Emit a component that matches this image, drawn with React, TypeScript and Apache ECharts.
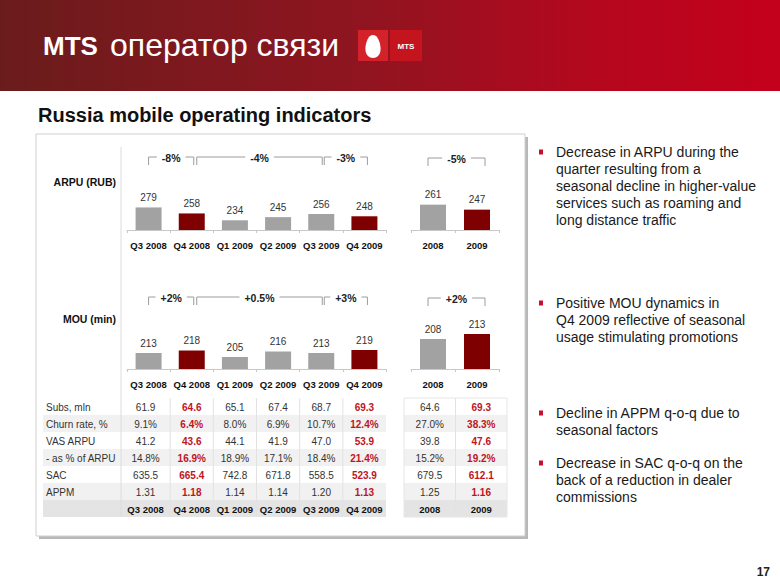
import React, { useEffect, useRef } from "react";
import * as echarts from "echarts";

const quarters = ["Q3 2008", "Q4 2008", "Q1 2009", "Q2 2009", "Q3 2009", "Q4 2009"];
const years = ["2008", "2009"];
const arpuQ = [279, 258, 234, 245, 256, 248];
const arpuY = [261, 247];
const mouQ = [213, 218, 205, 216, 213, 219];
const mouY = [208, 213];
const highlightQ = [1, 5];
const highlightY = [1];
const arpuQChanges = ["-8%", "-4%", "-3%"];
const arpuYChange = "-5%";
const mouQChanges = ["+2%", "+0.5%", "+3%"];
const mouYChange = "+2%";
const rowLabels = ["Subs, mln", "Churn rate, %", "VAS ARPU", "- as % of ARPU", "SAC", "APPM"];
const tableQ = [
  ["61.9", "64.6", "65.1", "67.4", "68.7", "69.3"],
  ["9.1%", "6.4%", "8.0%", "6.9%", "10.7%", "12.4%"],
  ["41.2", "43.6", "44.1", "41.9", "47.0", "53.9"],
  ["14.8%", "16.9%", "18.9%", "17.1%", "18.4%", "21.4%"],
  ["635.5", "665.4", "742.8", "671.8", "558.5", "523.9"],
  ["1.31", "1.18", "1.14", "1.14", "1.20", "1.13"],
];
const tableY = [
  ["64.6", "69.3"],
  ["27.0%", "38.3%"],
  ["39.8", "47.6"],
  ["15.2%", "19.2%"],
  ["679.5", "612.1"],
  ["1.25", "1.16"],
];
const bullets = [
  "Decrease in ARPU during the\nquarter resulting from a\nseasonal decline in higher-value\nservices such as roaming and\nlong distance traffic",
  "Positive MOU dynamics in\nQ4 2009 reflective of seasonal\nusage stimulating promotions",
  "Decline in APPM q-o-q due to\nseasonal factors",
  "Decrease in SAC q-o-q on the\nback of a reduction in dealer\ncommissions",
];
const bulletTops = [152, 303, 413, 463];
const headerBrand = "MTS";
const headerText = "оператор связи";
const title = "Russia mobile operating indicators";
const pageNo = "17";

const FONT = "'Liberation Sans', Arial, Helvetica, sans-serif";
const GRAY = "#a2a2a2";
const RED = "#7f0000";
const TXT_RED = "#c0141e";

// layout
const QL = 127, QW = 259;
const YL = 411, YW = 88;
const qStep = QW / quarters.length;
const yStep = YW / years.length;
const qc = (i: number) => QL + qStep * (i + 0.5);
const yc = (i: number) => YL + yStep * (i + 0.5);

function bracket(x1: number, x2: number, y: number, text: string) {
  return [
    {
      type: "polyline",
      z: 5,
      shape: { points: [[x1, y + 8], [x1, y], [x2, y], [x2, y + 8]] },
      style: { stroke: "#9c9c9c", lineWidth: 1, fill: null },
    },
    {
      type: "text",
      z: 6,
      x: (x1 + x2) / 2,
      y: y + 1,
      style: {
        text,
        font: `bold 10.5px ${FONT}`,
        fill: "#222",
        align: "center",
        verticalAlign: "middle",
        textAlign: "center",
        textVerticalAlign: "middle",
        backgroundColor: "#fff",
        padding: [1, 5],
      },
    },
  ];
}

function txt(x: number, y: number, text: string, font: string, fill: string, align = "center", z = 6) {
  return {
    type: "text",
    z,
    x,
    y,
    style: { text, font, fill, align, verticalAlign: "middle", textAlign: align, textVerticalAlign: "middle" },
  };
}

export default function App() {
  const ref = useRef<HTMLDivElement>(null);
  useEffect(() => {
    if (!ref.current) return;
    echarts.graphic.registerShape(
      "egg",
      echarts.graphic.extendPath(
        "M0,-11 C5,-11 8,-3 8,3 C8,9 4,12 0,12 C-4,12 -8,9 -8,3 C-8,-3 -5,-11 0,-11 Z",
        {}
      )
    );
    const chart = echarts.init(ref.current, null, { renderer: "svg" });

    const graphics: any[] = [];
    // header
    graphics.push({
      type: "rect",
      z: 0,
      shape: { x: 0, y: 0, width: 780, height: 91 },
      style: {
        fill: new echarts.graphic.LinearGradient(0, 0, 1, 0, [
          { offset: 0, color: "#6a1c1c" },
          { offset: 0.45, color: "#8e1520" },
          { offset: 0.75, color: "#b3081e" },
          { offset: 1, color: "#c4001c" },
        ]),
      },
    });
    graphics.push(txt(43, 46, headerBrand, `bold 26px ${FONT}`, "#fff", "left"));
    graphics.push(txt(110, 45, headerText, `32px ${FONT}`, "#fff", "left"));
    graphics.push({ type: "rect", z: 1, shape: { x: 358, y: 30, width: 30, height: 31 }, style: { fill: "#d3222a" } });
    graphics.push({ type: "rect", z: 1, shape: { x: 390, y: 30, width: 32, height: 31 }, style: { fill: "#c4141e" } });
    graphics.push({ type: "egg", z: 2, x: 373, y: 46, scaleX: 0.95, scaleY: 1, style: { fill: "#fff" } });
    graphics.push(txt(406, 46, "MTS", `bold 8px ${FONT}`, "#fff", "center", 3));

    // title
    graphics.push(txt(38, 115, title, `bold 20px ${FONT}`, "#111", "left"));

    // panel
    graphics.push({ type: "rect", z: 0, shape: { x: 39, y: 137, width: 489, height: 402 }, style: { fill: "#b8b8b8" } });
    graphics.push({ type: "rect", z: 0, shape: { x: 36, y: 134, width: 489, height: 402 }, style: { fill: "#fff", stroke: "#cfcfcf", lineWidth: 1 } });

    // separator
    graphics.push({ type: "line", z: 4, shape: { x1: 121, y1: 147, x2: 121, y2: 517 }, style: { stroke: "#dcdcdc", lineWidth: 1 } });

    // row titles
    graphics.push(txt(116, 182, "ARPU (RUB)", `bold 10.5px ${FONT}`, "#111", "right"));
    graphics.push(txt(116, 319, "MOU (min)", `bold 10.5px ${FONT}`, "#111", "right"));

    // brackets ARPU
    graphics.push(...bracket(qc(0), qc(1) + 2, 157, arpuQChanges[0]));
    graphics.push(...bracket(qc(1) + 5, qc(4) + 1, 157, arpuQChanges[1]));
    graphics.push(...bracket(qc(4) + 3, qc(5) + 3, 157, arpuQChanges[2]));
    graphics.push(...bracket(yc(0) - 5, yc(1) + 8, 158, arpuYChange));
    // brackets MOU
    graphics.push(...bracket(qc(0), qc(1) + 2, 297, mouQChanges[0]));
    graphics.push(...bracket(qc(1) + 5, qc(4) + 1, 297, mouQChanges[1]));
    graphics.push(...bracket(qc(4) + 3, qc(5) + 3, 297, mouQChanges[2]));
    graphics.push(...bracket(yc(0) - 5, yc(1) + 8, 298, mouYChange));

    // table
    const rowTop = 398, rowH = 17;
    const tL = 43, tR = QL + QW;
    const yTL = 404, yTR = 507, yMid = 455.5;
    const nRows = rowLabels.length + 1;
    const cellFont = `9.5px ${FONT}`;
    for (let r = 0; r < nRows; r++) {
      const y = rowTop + r * rowH;
      const isHeader = r === rowLabels.length;
      const fill = isHeader ? "#e4e4e4" : r % 2 === 1 ? "#f1f1f1" : "#ffffff";
      graphics.push({ type: "rect", z: 1, shape: { x: tL, y, width: tR - tL, height: rowH }, style: { fill } });
      graphics.push({ type: "rect", z: 1, shape: { x: yTL, y, width: yTR - yTL, height: rowH }, style: { fill } });
      const cy = y + rowH / 2 + 0.5;
      if (!isHeader) {
        graphics.push(txt(46, cy, rowLabels[r], `10px ${FONT}`, "#333", "left"));
        tableQ[r].forEach((v, i) => {
          const hi = highlightQ.includes(i);
          graphics.push(txt(qc(i) + (i === 0 ? -3 : 0), cy, v, `${hi ? "bold " : ""}10px ${FONT}`, hi ? TXT_RED : "#333"));
        });
        tableY[r].forEach((v, i) => {
          const hi = highlightY.includes(i);
          const cx = i === 0 ? (yTL + yMid) / 2 : (yMid + yTR) / 2;
          graphics.push(txt(cx, cy, v, `${hi ? "bold " : ""}10px ${FONT}`, hi ? TXT_RED : "#333"));
        });
      } else {
        quarters.forEach((q, i) => graphics.push(txt(qc(i) + (i === 0 ? -3 : 0), cy, q, `bold ${cellFont}`, "#111")));
        years.forEach((q, i) => {
          const cx = i === 0 ? (yTL + yMid) / 2 : (yMid + yTR) / 2;
          graphics.push(txt(cx, cy, q, `bold ${cellFont}`, "#111"));
        });
      }
    }
    // table column lines
    for (let i = 1; i < quarters.length; i++) {
      const x = QL + qStep * i;
      graphics.push({ type: "line", z: 2, shape: { x1: x, y1: rowTop, x2: x, y2: rowTop + nRows * rowH }, style: { stroke: "#e2e2e2", lineWidth: 1 } });
    }
    graphics.push({ type: "line", z: 2, shape: { x1: yMid, y1: rowTop, x2: yMid, y2: rowTop + nRows * rowH }, style: { stroke: "#e2e2e2", lineWidth: 1 } });
    graphics.push({ type: "rect", z: 2, shape: { x: yTL, y: rowTop, width: yTR - yTL, height: nRows * rowH }, style: { fill: null, stroke: "#e6e6e6", lineWidth: 1 } });

    // bullets
    bullets.forEach((b, i) => {
      graphics.push({ type: "rect", z: 3, shape: { x: 539, y: bulletTops[i] - 2.5, width: 4, height: 5 }, style: { fill: "#c8102e" } });
      graphics.push({
        type: "text",
        z: 3,
        x: 556,
        y: bulletTops[i] - 8.5,
        style: { text: b, font: `14px ${FONT}`, fill: "#1a1a1a", lineHeight: 17, align: "left", verticalAlign: "top", textAlign: "left", textVerticalAlign: "top" },
      });
    });

    // page number
    graphics.push(txt(770, 572, pageNo, `bold 12px ${FONT}`, "#222", "right"));

    const axisX = (gridIndex: number, data: string[]) => ({
      gridIndex,
      type: "category",
      data,
      axisLine: { lineStyle: { color: "#c8c8c8", width: 1 } },
      axisTick: { show: true, length: 3, lineStyle: { color: "#c8c8c8" } },
      axisLabel: { interval: 0, fontSize: 9.5, fontWeight: "bold", color: "#111", margin: 10, fontFamily: FONT },
      splitLine: { show: false },
    });
    const axisY = (gridIndex: number, min: number, max: number) => ({
      gridIndex,
      type: "value",
      min,
      max,
      show: false,
      splitLine: { show: false },
    });
    const bar = (idx: number, data: number[], hi: number[]) => ({
      type: "bar",
      xAxisIndex: idx,
      yAxisIndex: idx,
      barWidth: 26,
      silent: true,
      z: 3,
      data: data.map((v, i) => ({ value: v, itemStyle: { color: hi.includes(i) ? RED : GRAY } })),
      label: { show: true, position: "top", distance: 5, fontSize: 10, color: "#333", fontFamily: FONT },
    });

    const option: any = {
      animation: false,
      backgroundColor: "#fff",
      grid: [
        { left: QL, top: 150, width: QW, height: 80 },
        { left: YL, top: 150, width: YW, height: 80 },
        { left: QL, top: 289, width: QW, height: 80 },
        { left: YL, top: 289, width: YW, height: 80 },
      ],
      xAxis: [axisX(0, quarters), axisX(1, years), axisX(2, quarters), axisX(3, years)],
      yAxis: [axisY(0, 200, 480), axisY(1, 190, 414), axisY(2, 181, 341), axisY(3, 178, 258)],
      series: [bar(0, arpuQ, highlightQ), bar(1, arpuY, highlightY), bar(2, mouQ, highlightQ), bar(3, mouY, highlightY)],
      graphic: { elements: graphics },
    };
    chart.setOption(option);
    return () => chart.dispose();
  }, []);
  return <div ref={ref} style={{ position: "absolute", left: 0, top: 0, width: 780, height: 586 }} />;
}
